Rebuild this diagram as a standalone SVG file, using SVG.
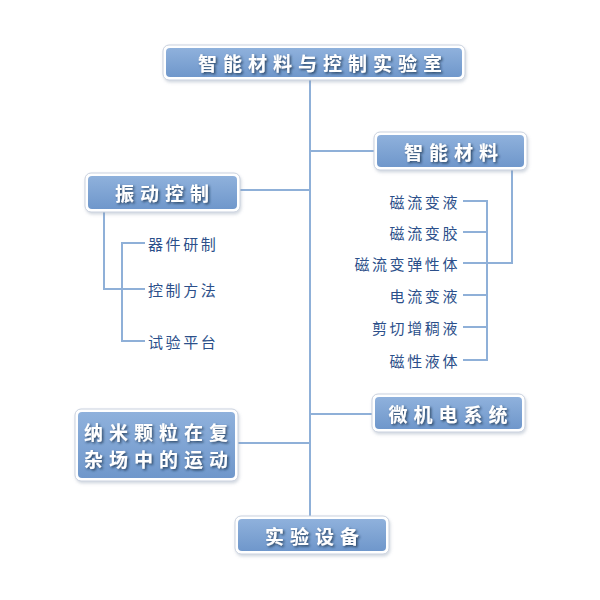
<svg xmlns="http://www.w3.org/2000/svg" width="600" height="600" viewBox="0 0 600 600">
<defs>
<linearGradient id="g" x1="0" y1="0" x2="0" y2="1">
<stop offset="0" stop-color="#8fb1dc"/>
<stop offset="1" stop-color="#6f97cb"/>
</linearGradient>
<filter id="sh" x="-10%" y="-30%" width="130%" height="180%">
<feDropShadow dx="1.5" dy="1.5" stdDeviation="1" flood-color="#1e2f4a" flood-opacity="0.8"/>
</filter>
<filter id="bs" x="-10%" y="-20%" width="120%" height="150%">
<feDropShadow dx="1" dy="2" stdDeviation="1.5" flood-color="#8090a8" flood-opacity="0.35"/>
</filter>
</defs>
<style>
.ob{fill:#fff;stroke:#c9d1de;stroke-width:1;filter:url(#bs)}
.ib{fill:url(#g)}
.t{font-family:"Noto Sans CJK SC","Noto Sans CJK JP",sans-serif;font-weight:bold;fill:#fff;font-size:19px;letter-spacing:6px;text-anchor:middle;dominant-baseline:central;filter:url(#sh)}
.it{font-family:"Noto Sans CJK SC","Noto Sans CJK JP",sans-serif;fill:#2b4f8a;font-size:15px;letter-spacing:2.6px;dominant-baseline:central}
.c{fill:none;stroke:#8fb0d8;stroke-width:2}
</style>
<rect width="600" height="600" fill="#fff"/>
<g id="connectors">
<path class="c" d="M310 80 V516"/>
<path class="c" d="M310 151 H374"/>
<path class="c" d="M310 190 H240"/>
<path class="c" d="M310 414 H372"/>
<path class="c" d="M310 443 H238"/>
<path class="c" d="M512 170 V263 H487"/>
<path class="c" d="M463 201 H487 V360 H463 M463 232 H487 M463 263 H487 M463 295 H487 M463 327 H487"/>
<path class="c" d="M104 212 V289 H145 M145 243 H122 V341 H145"/>
</g>
<g id="root">
<rect class="ob" x="163" y="45" width="302" height="35" rx="6"/>
<rect class="ib" x="166" y="48" width="296" height="29" rx="4"/>
<text class="t" x="323" y="62">智能材料与控制实验室</text>
</g>
<g id="smart">
<rect class="ob" x="374" y="132" width="153" height="38" rx="6"/>
<rect class="ib" x="377" y="135" width="147" height="32" rx="4"/>
<text class="t" x="454" y="151">智能材料</text>
</g>
<g id="vib">
<rect class="ob" x="85" y="173" width="155" height="39" rx="6"/>
<rect class="ib" x="88" y="176" width="149" height="33" rx="4"/>
<text class="t" x="165" y="192">振动控制</text>
</g>
<g id="mems">
<rect class="ob" x="372" y="394" width="153" height="38" rx="6"/>
<rect class="ib" x="375" y="397" width="147" height="32" rx="4"/>
<text class="t" x="451" y="413">微机电系统</text>
</g>
<g id="nano">
<rect class="ob" x="75" y="409" width="163" height="72" rx="6"/>
<rect class="ib" x="78" y="412" width="157" height="66" rx="4"/>
<text class="t" x="159" y="431">纳米颗粒在复</text>
<text class="t" x="159" y="458">杂场中的运动</text>
</g>
<g id="equip">
<rect class="ob" x="235" y="516" width="154" height="38" rx="6"/>
<rect class="ib" x="238" y="519" width="148" height="32" rx="4"/>
<text class="t" x="315" y="535">实验设备</text>
</g>
<g id="smart-items">
<text class="it" x="460" y="201" text-anchor="end">磁流变液</text>
<text class="it" x="460" y="232" text-anchor="end">磁流变胶</text>
<text class="it" x="460" y="263" text-anchor="end">磁流变弹性体</text>
<text class="it" x="460" y="295" text-anchor="end">电流变液</text>
<text class="it" x="460" y="327" text-anchor="end">剪切增稠液</text>
<text class="it" x="460" y="360" text-anchor="end">磁性液体</text>
</g>
<g id="vib-items">
<text class="it" x="148" y="243">器件研制</text>
<text class="it" x="148" y="289">控制方法</text>
<text class="it" x="148" y="341">试验平台</text>
</g>
</svg>
